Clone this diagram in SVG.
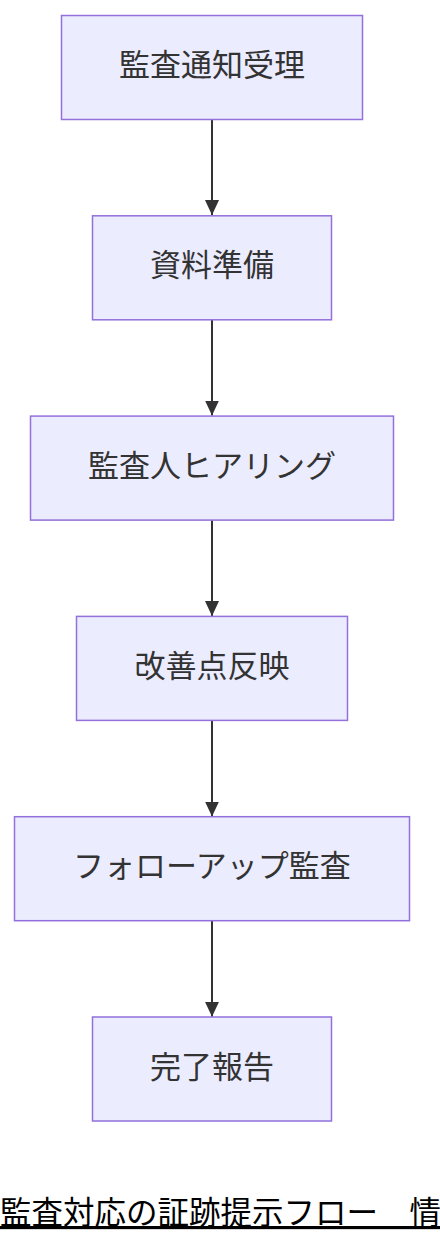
<svg xmlns="http://www.w3.org/2000/svg" width="440" height="1244" viewBox="0 0 440 1244">
<style>
.node rect{fill:#ECECFF;stroke:#9370DB;stroke-width:1.5}
.node text{font-family:"Noto Sans CJK JP","Noto Sans",sans-serif;font-size:31px;fill:#333;text-anchor:middle}
.edge{stroke:#333;stroke-width:2;fill:none}
.title{font-family:"Noto Sans CJK JP","Noto Sans",sans-serif;font-size:31.5px;fill:#000;text-decoration:underline}
</style>
<defs>
<marker id="arrow" viewBox="0 0 16 15" refX="16" refY="7.5" markerWidth="15" markerHeight="16" markerUnits="userSpaceOnUse" orient="auto">
<path d="M0,0 L16,7.5 L0,15 Z" fill="#333"/>
</marker>
</defs>
<rect width="440" height="1244" fill="#fff"/>
<g id="connectors">
<path class="edge" d="M212,119.5 V215" marker-end="url(#arrow)"/>
<path class="edge" d="M212,319.8 V415.5" marker-end="url(#arrow)"/>
<path class="edge" d="M212,520.2 V616" marker-end="url(#arrow)"/>
<path class="edge" d="M212,720.5 V816.5" marker-end="url(#arrow)"/>
<path class="edge" d="M212,920.8 V1016.8" marker-end="url(#arrow)"/>
</g>
<g id="n1" class="node"><rect x="61.5" y="15.5" width="301" height="104"/><text x="212" y="76">監査通知受理</text></g>
<g id="n2" class="node"><rect x="92.5" y="215.8" width="239" height="104"/><text x="212" y="276.3">資料準備</text></g>
<g id="n3" class="node"><rect x="30.5" y="416.1" width="363" height="104"/><text x="212" y="476.6">監査人ヒアリング</text></g>
<g id="n4" class="node"><rect x="76.5" y="616.4" width="271" height="104"/><text x="212" y="676.9">改善点反映</text></g>
<g id="n5" class="node"><rect x="14.5" y="816.7" width="395" height="104"/><text x="212" y="877.2">フォローアップ監査</text></g>
<g id="n6" class="node"><rect x="92.5" y="1017" width="239" height="104"/><text x="212" y="1077.5">完了報告</text></g>
<text class="title" x="0" y="1224">監査対応の証跡提示フロー　情</text>
</svg>
